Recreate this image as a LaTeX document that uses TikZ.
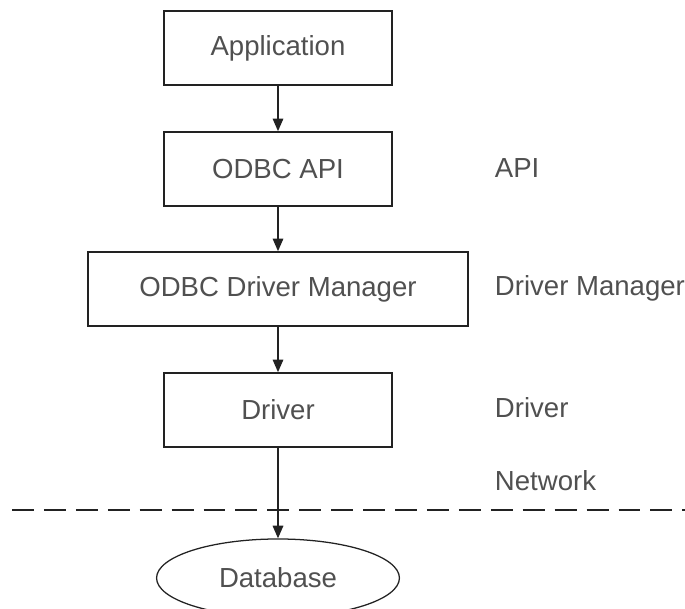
\documentclass[tikz,border=0pt]{standalone}
\usepackage{fontspec}
\setmainfont{Liberation Sans}
\usepackage{xcolor}
\usetikzlibrary{shapes, positioning, arrows.meta}

\definecolor{linegray}{HTML}{222222}
\definecolor{textgray}{HTML}{505050}

\begin{document}
\begin{tikzpicture}[x=0.025cm, y=-0.025cm,
    every node/.style={font=\fontsize{19.6}{23}\selectfont, text=textgray},
    box/.style={draw=linegray, line width=1.1pt, rectangle, minimum height=1.85cm, inner sep=0pt},
    flow/.style={draw=linegray, line width=1.1pt, -{Triangle[length=9pt, width=7.5pt]}}]
      \useasboundingbox (0,0) rectangle (685,609);

      \node[box, minimum width=5.7cm] (app) at (278,48) {Application};
      \node[box, minimum width=5.7cm] (api) at (278,169) {ODBC API};
      \node[box, minimum width=9.5cm] (dm) at (278,289) {ODBC Driver Manager};
      \node[box, minimum width=5.7cm] (drv) at (278,410) {Driver};
      \node[ellipse, draw=linegray, line width=0.9pt, minimum width=6.07cm, minimum height=1.95cm, inner sep=0pt] (db) at (278,578) {Database};

      \node[anchor=west] (lapi) at (490,168) {API};
      \node[anchor=west] (ldm) at (490,288) {Driver Manager};
      \node[anchor=west] (ldrv) at (490,408) {Driver};
      \node[anchor=west] (lnet) at (490,481) {Network};

      \coordinate (netl) at (12,510);
      \coordinate (netr) at (685,510);
      \draw[linegray, line width=1.4pt, dash pattern=on 15.6pt off 7.1pt] (netl) -- (netr);

      \draw[flow] (app) -- (api);
      \draw[flow] (api) -- (dm);
      \draw[flow] (dm) -- (drv);
      \draw[flow] (drv) -- (db);

    \end{tikzpicture}
\end{document}
